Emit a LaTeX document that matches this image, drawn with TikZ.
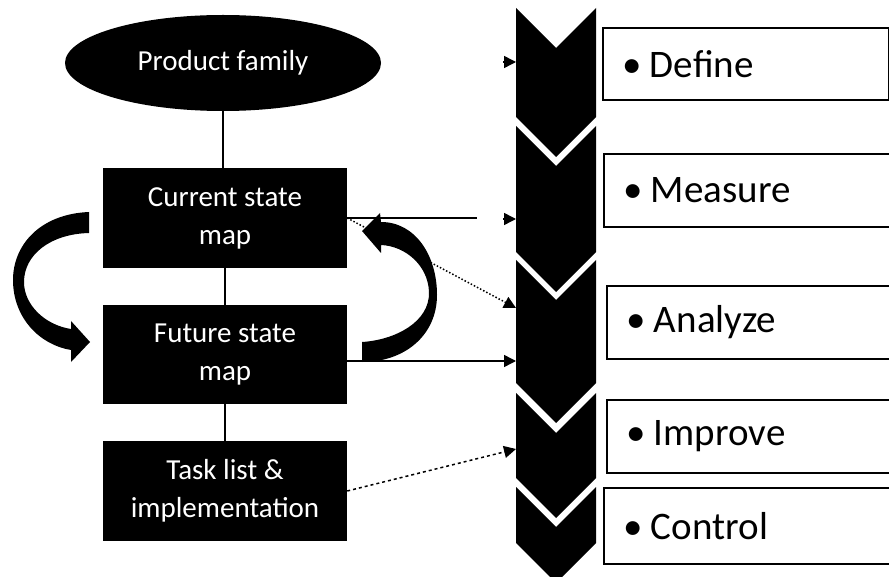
\documentclass[tikz,border=0pt]{standalone}
\usepackage{fontspec}
\setmainfont{Carlito}
\usetikzlibrary{shapes.geometric,arrows.meta}
\begin{document}
\begin{tikzpicture}[x=1pt,y=-1pt,
  darkbox/.style={rectangle, fill=black, text=white, minimum width=244pt,
    minimum height=100pt, align=center, inner sep=0pt,
    font=\fontsize{29}{38}\selectfont},
  phasebox/.style={rectangle, draw=black, line width=1.6pt, fill=white,
    anchor=north west, minimum width=286pt, text width=246pt, inner xsep=20pt,
    inner ysep=0pt, align=left, font=\fontsize{39}{40}\selectfont},
  chev/.style={fill=black},
  link/.style={line width=1.5pt, draw=black},
  tipped/.style={-{Triangle[length=12pt,width=12pt]}},
  blockarrow/.style={fill=black}]
\useasboundingbox (0,0) rectangle (889,577);

% process chevrons (top edge, bottom of the straight sides)
\foreach \a/\b in {8/117,126/252,260/383,393/478,487/543}
  \fill[chev] (516,\a) -- (556,{\a+40}) -- (596,\a) -- (596,\b)
    -- (556,{\b+40}) -- (516,\b) -- cycle;

% phase boxes
\node[phasebox, minimum height=72pt] (pdef) at (602,27) {\textbullet\hspace{0.2em}Define};
\node[phasebox, minimum height=73pt] (pmea) at (603,153) {\textbullet\hspace{0.2em}Measure};
\node[phasebox, minimum height=73pt, minimum width=283pt] (pana) at (606,285) {\textbullet\hspace{0.2em}Analyze};
\node[phasebox, minimum height=73pt, minimum width=283pt] (pimp) at (606,399) {\textbullet\hspace{0.2em}Improve};
\node[phasebox, minimum height=76pt] (pcon) at (603,487) {\textbullet\hspace{0.2em}Control};

% value stream mapping steps
\node[ellipse, fill=black, text=white, minimum width=316pt, minimum height=96pt,
  inner sep=0pt, font=\fontsize{29}{38}\selectfont] (fam) at (223,63) {Product family};
\node[darkbox] (cur) at (225,218) {Current state\\map};
\node[darkbox, minimum height=99pt] (fut) at (225,354.5) {Future state\\map};
\node[darkbox] (task) at (225,491) {Task list \&\\implementation};

\draw[link] (fam.south) -- (fam.south |- cur.north);
\draw[link] (cur.south) -- (fut.north);
\draw[link] (fut.south) -- (task.north);

% entry points on the chevrons
\coordinate (defstub) at (503,62);
\coordinate (defin) at (516,62);
\coordinate (meaend) at (477,218);
\coordinate (meastub) at (503,219);
\coordinate (meain) at (516,219);
\coordinate (anain) at (516,308);
\coordinate (anain2) at (516,361);
\coordinate (impin) at (516,449);

\draw[link, tipped] (defstub) -- (defin);
\draw[link] (cur.east) -- (meaend);
\draw[link, tipped] (meastub) -- (meain);
\draw[link, dotted, tipped] (cur.east) -- (anain);
\draw[link, tipped] ([yshift=-6.5pt]fut.east) -- (anain2);
\draw[link, dash pattern=on 3pt off 3pt, tipped] (task.east) -- (impin);

% curved block arrows between current and future state
\fill[blockarrow] (89,212) .. controls (40,214) and (13,245) .. (13,280)
  .. controls (13,318) and (40,345) .. (71,350) -- (71,362) -- (90,342)
  -- (71,321) -- (71,329) .. controls (45,325) and (24,305) .. (24,282)
  .. controls (24,255) and (50,234) .. (89,233) -- cycle;
\fill[blockarrow] (362,342) .. controls (395,340) and (430,322) .. (429,292)
  .. controls (428,265) and (405,246) .. (381,245) -- (381,253) -- (362,231)
  -- (380,213) -- (381,222) .. controls (415,222) and (437,255) .. (437,295)
  .. controls (437,335) and (405,362) .. (362,362) -- cycle;
\end{tikzpicture}
\end{document}
